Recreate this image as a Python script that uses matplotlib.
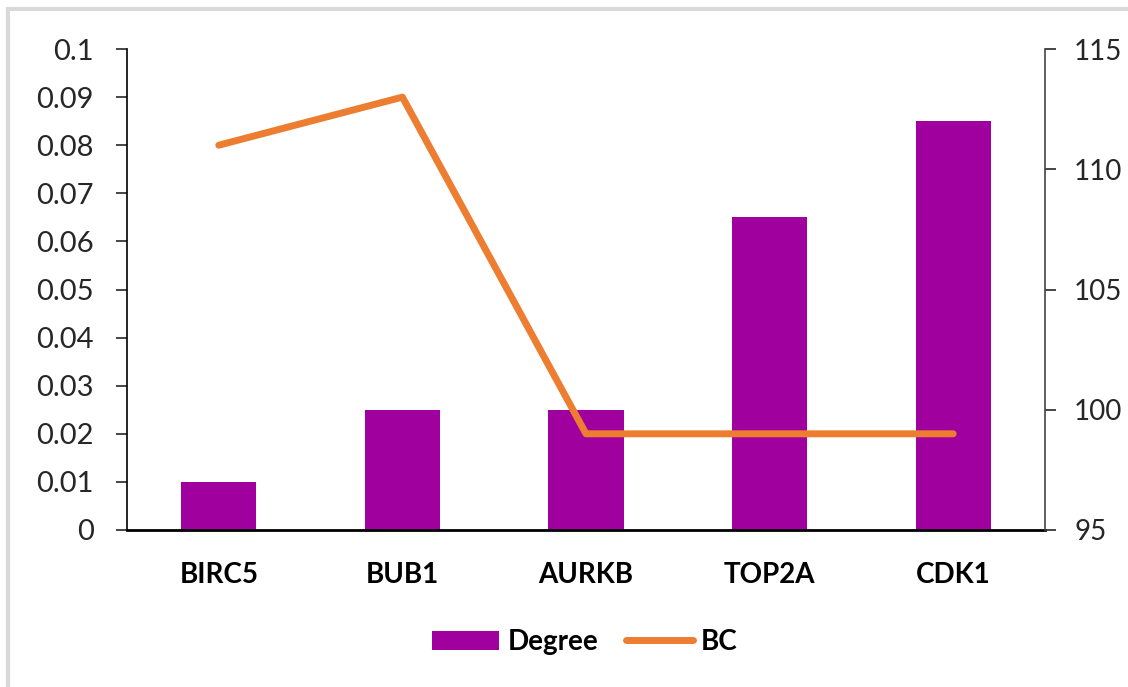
import numpy as np
import matplotlib.pyplot as plt
from matplotlib.patches import Rectangle

plt.rcParams['font.family'] = ['Lato', 'DejaVu Sans']

genes = ['BIRC5', 'BUB1', 'AURKB', 'TOP2A', 'CDK1']
degree = [0.01, 0.025, 0.025, 0.065, 0.085]
bc = [111, 113, 99, 99, 99]

bar_color = '#A0009E'
line_color = '#ED7D31'

fig = plt.figure(figsize=(11.28, 6.87), dpi=100)
# thin grey frame round the chart area
fig.patches.append(Rectangle((8 / 1128, -0.05), 1.2, 1 - 9 / 687 + 0.05,
                             transform=fig.transFigure, fill=False,
                             edgecolor='#d9d9d9', linewidth=3))

ax1 = fig.add_axes([127 / 1128, 1 - 530 / 687, 918 / 1128, 481 / 687])
x = np.arange(len(genes))
ax1.bar(x, degree, width=0.41, color=bar_color, label='Degree', zorder=2)
ax1.set_xlim(-0.5, len(genes) - 0.5)
ax1.set_ylim(0, 0.1)
ax1.set_yticks(np.arange(0, 0.101, 0.01))
ax1.set_yticklabels(['0'] + ['%g' % v for v in np.round(np.arange(0.01, 0.101, 0.01), 2)])
ax1.set_xticks(x)
ax1.set_xticklabels(genes, fontsize=20, fontweight='bold')
ax1.tick_params(axis='x', length=0, pad=23)
ax1.tick_params(axis='y', length=8, width=1.2, labelsize=21, colors='#262626', pad=16)
for s in ['top', 'right']:
    ax1.spines[s].set_visible(False)
ax1.spines['left'].set_linewidth(1.2)
ax1.spines['bottom'].set_linewidth(2)

ax2 = ax1.twinx()
ax2.plot(x, bc, color=line_color, linewidth=5, label='BC', zorder=3,
         solid_capstyle='round', solid_joinstyle='round')
ax2.set_ylim(95, 115)
ax2.set_yticks([95, 100, 105, 110, 115])
ax2.tick_params(axis='y', length=8, width=1.2, labelsize=20, colors='#262626', pad=13)
for s in ['top', 'left', 'bottom']:
    ax2.spines[s].set_visible(False)
ax2.spines['right'].set_linewidth(1.2)
ax2.spines['right'].set_color('#444444')

h1, l1 = ax1.get_legend_handles_labels()
h2, l2 = ax2.get_legend_handles_labels()
fig.legend(h1 + h2, l1 + l2, loc='center', bbox_to_anchor=(585 / 1128, 1 - 642 / 687),
           ncol=2, frameon=False, prop={'size': 20, 'weight': 'bold'},
           handlelength=2.4, handletextpad=0.3, columnspacing=1.0)

plt.savefig('out.png', dpi=100)
